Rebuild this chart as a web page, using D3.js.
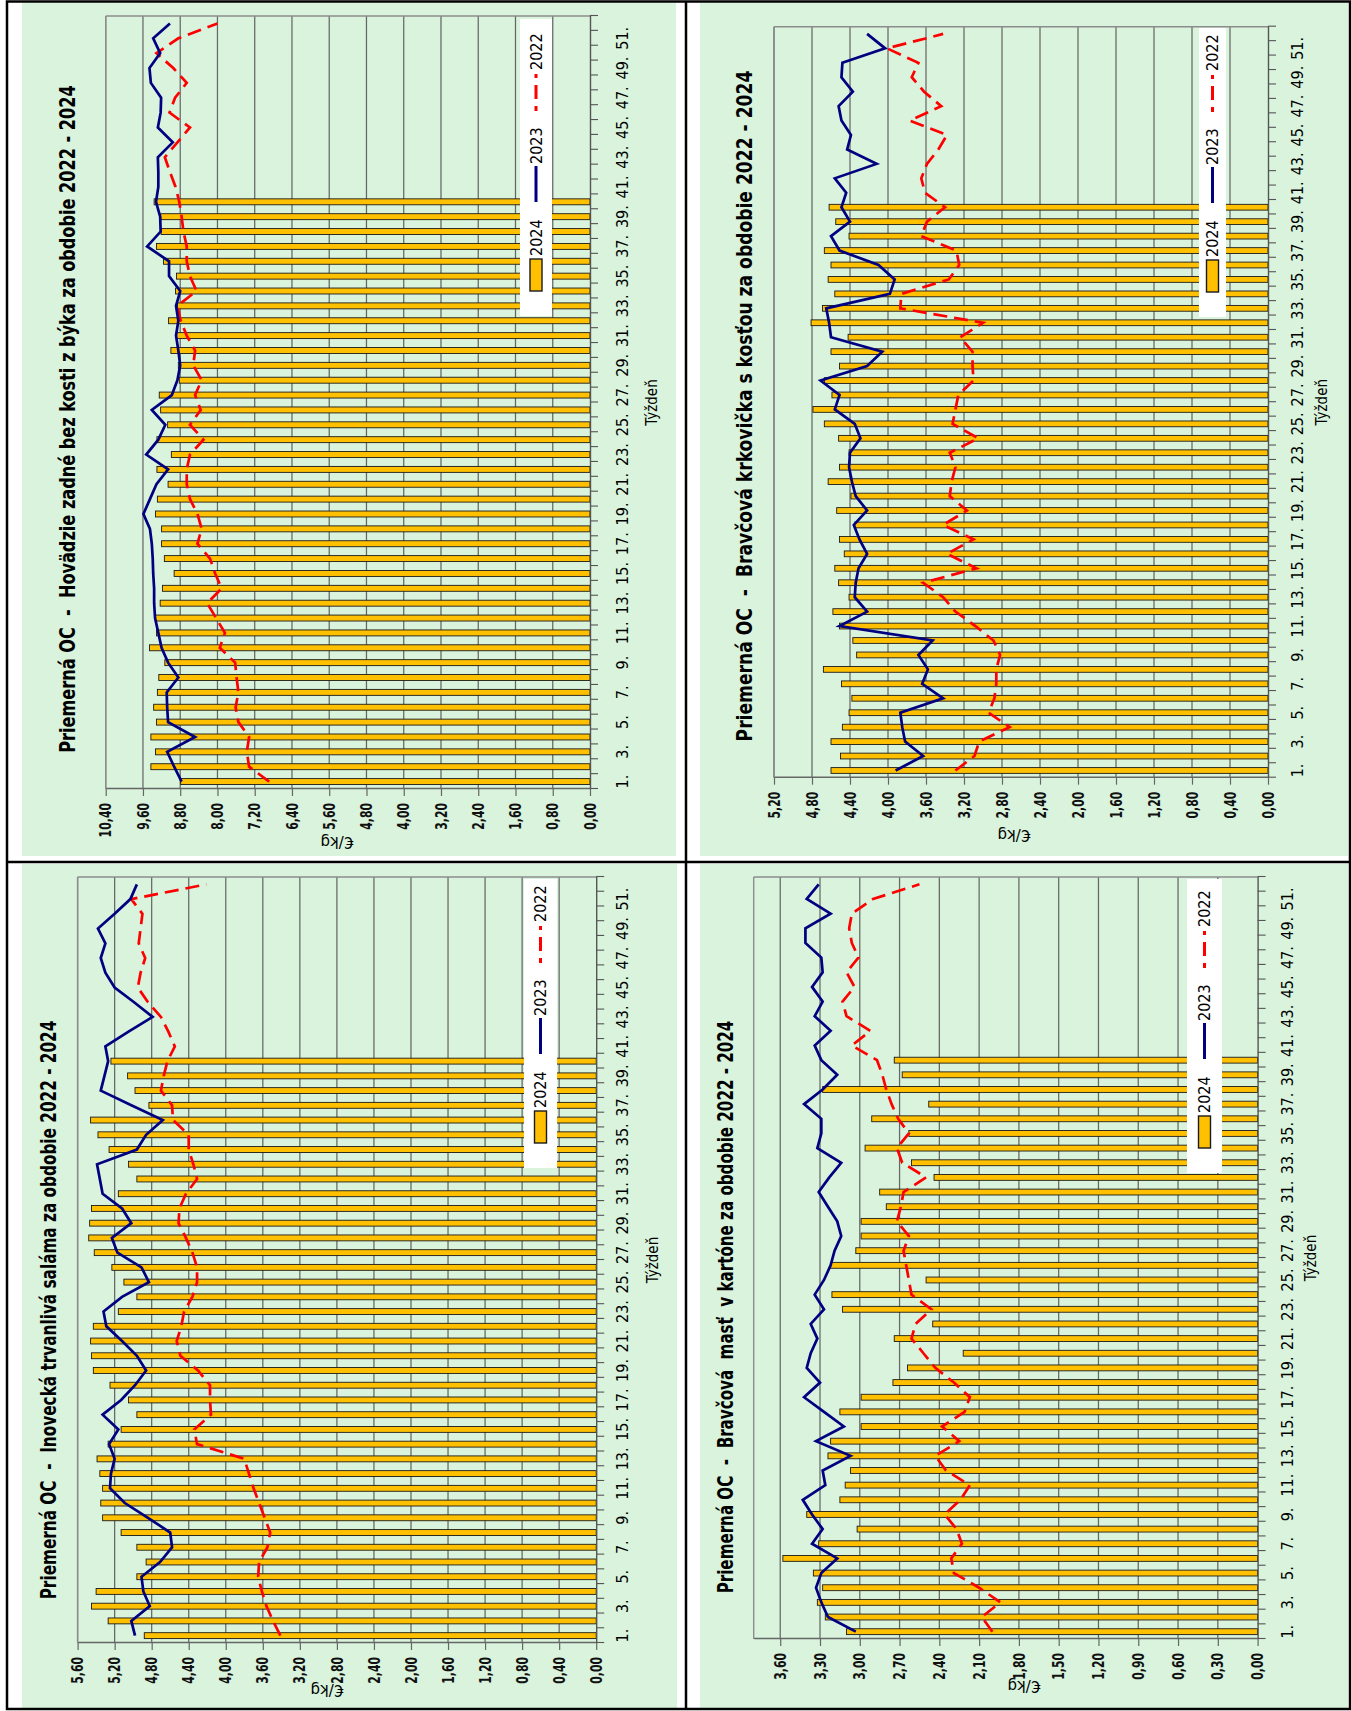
<!DOCTYPE html>
<html><head><meta charset="utf-8">
<script src="https://cdn.jsdelivr.net/npm/d3@7"></script>
<style>
body{margin:0;background:#fff;}
svg{display:block;}
</style></head><body>
<svg id="c" width="1351" height="1711"></svg>
<script>
// ---------- DATA ----------
const weeks = d3.range(1, 53);
const weekLabels = weeks.map(w => w + ".");
const seriesNames = ["2024", "2023", "2022"];
const axisTitleX = "Týždeň";
const axisTitleY = "€/kg";

// Panel 1: Hovädzie zadné bez kosti z býka
const beefTitle = "Priemerná OC  -  Hovädzie zadné bez kosti z býka za obdobie 2022 - 2024";
const beefTicks = [0, 0.8, 1.6, 2.4, 3.2, 4.0, 4.8, 5.6, 6.4, 7.2, 8.0, 8.8, 9.6, 10.4];
const beef2024 = [8.79, 9.43, 9.33, 9.43, 9.31, 9.37, 9.29, 9.26, 9.13, 9.46,
  9.31, 9.33, 9.23, 9.18, 8.93, 9.14, 9.20, 9.20, 9.33, 9.29,
  9.06, 9.30, 8.99, 9.30, 9.07, 9.22, 9.25, 8.82, 8.84, 9.00,
  8.89, 9.05, 8.86, 8.90, 8.88, 9.16, 9.31, 9.21, 9.22, 9.36];
const beef2023 = [8.77, 8.93, 9.08, 8.48, 9.06, 9.08, 9.09, 8.84, 9.06, 9.20,
  9.27, 9.34, 9.36, 9.36, 9.38, 9.39, 9.41, 9.45, 9.59, 9.45,
  9.31, 9.06, 9.53, 9.27, 9.12, 9.41, 8.98, 8.86, 8.80, 8.84,
  8.89, 8.84, 8.89, 8.80, 9.04, 9.04, 9.51, 9.22, 9.23, 9.32,
  9.27, 9.27, 9.28, 8.96, 9.28, 9.22, 9.21, 9.43, 9.46, 9.23,
  9.38, 9.02];
const beef2022 = [6.89, 7.32, 7.37, 7.32, 7.55, 7.61, 7.55, 7.59, 7.62, 7.95,
  7.84, 8.03, 8.22, 7.91, 8.05, 8.16, 8.43, 8.34, 8.43, 8.59,
  8.66, 8.66, 8.59, 8.30, 8.59, 8.36, 8.48, 8.34, 8.52, 8.48,
  8.66, 8.79, 8.86, 8.45, 8.59, 8.66, 8.66, 8.73, 8.77, 8.82,
  8.90, 9.02, 9.13, 8.86, 8.59, 9.03, 8.91, 8.66, 8.95, 9.31,
  8.84, 8.00];

// Panel 2: Bravčová krkovička s kosťou
const neckTitle = "Priemerná OC  -  Bravčová krkovička s kosťou za obdobie 2022 - 2024";
const neckTicks = [0, 0.4, 0.8, 1.2, 1.6, 2.0, 2.4, 2.8, 3.2, 3.6, 4.0, 4.4, 4.8, 5.2];
const neck2024 = [4.60, 4.50, 4.60, 4.48, 4.41, 4.38, 4.49, 4.68, 4.33, 4.37,
  4.51, 4.58, 4.41, 4.52, 4.56, 4.46, 4.51, 4.35, 4.54, 4.39,
  4.63, 4.51, 4.41, 4.52, 4.67, 4.79, 4.59, 4.67, 4.51, 4.60,
  4.42, 4.81, 4.69, 4.56, 4.63, 4.60, 4.67, 4.41, 4.55, 4.62];
const neck2023 = [3.92, 3.63, 3.82, 3.85, 3.87, 3.42, 3.64, 3.58, 3.68, 3.53,
  4.51, 4.22, 4.35, 4.34, 4.31, 4.22, 4.30, 4.36, 4.22, 4.34,
  4.38, 4.41, 4.40, 4.29, 4.35, 4.56, 4.51, 4.71, 4.22, 4.06,
  4.60, 4.62, 4.65, 3.98, 3.93, 4.10, 4.51, 4.60, 4.40, 4.49,
  4.44, 4.56, 4.12, 4.43, 4.39, 4.49, 4.52, 4.37, 4.49, 4.48,
  4.03, 4.22];
const neck2022 = [3.29, 3.09, 3.04, 2.72, 2.94, 2.88, 2.86, 2.86, 2.82, 2.89,
  3.08, 3.29, 3.42, 3.63, 3.07, 3.38, 3.10, 3.42, 3.17, 3.35,
  3.33, 3.29, 3.35, 3.05, 3.32, 3.29, 3.26, 3.10, 3.11, 3.11,
  3.24, 3.00, 3.87, 3.86, 3.36, 3.25, 3.28, 3.65, 3.59, 3.40,
  3.61, 3.65, 3.59, 3.47, 3.38, 3.77, 3.44, 3.62, 3.75, 3.68,
  4.01, 3.42];

// Panel 3: Inovecká trvanlivá saláma
const salamiTitle = "Priemerná OC  -  Inovecká trvanlivá saláma za obdobie 2022 - 2024";
const salamiTicks = [0, 0.4, 0.8, 1.2, 1.6, 2.0, 2.4, 2.8, 3.2, 3.6, 4.0, 4.4, 4.8, 5.2, 5.6];
const salami2024 = [4.88, 5.27, 5.45, 5.40, 4.96, 4.86, 4.96, 5.13, 5.33, 5.35,
  5.33, 5.36, 5.39, 5.27, 5.13, 4.96, 5.05, 5.25, 5.43, 5.45,
  5.46, 5.43, 5.16, 4.96, 5.10, 5.23, 5.42, 5.48, 5.47, 5.45,
  5.16, 4.96, 5.05, 5.26, 5.38, 5.46, 4.83, 4.98, 5.06, 5.24];
const salami2023 = [4.98, 5.02, 4.82, 4.89, 4.91, 4.71, 4.58, 4.60, 4.84, 5.09,
  5.25, 5.24, 5.20, 5.26, 5.16, 5.33, 5.13, 4.98, 4.86, 4.96,
  5.12, 5.29, 5.32, 5.12, 4.83, 4.91, 5.17, 5.23, 5.02, 5.12,
  5.33, 5.36, 5.39, 4.96, 4.86, 4.68, 5.02, 5.35, 5.31, 5.27,
  5.30, 5.05, 4.79, 4.99, 5.20, 5.30, 5.35, 5.30, 5.38, 5.20,
  5.03, 4.96];
const salami2022 = [3.41, 3.49, 3.56, 3.61, 3.65, 3.64, 3.55, 3.52, 3.58, 3.64,
  3.70, 3.75, 3.80, 4.31, 4.34, 4.16, 4.17, 4.17, 4.30, 4.49,
  4.53, 4.48, 4.45, 4.36, 4.31, 4.31, 4.36, 4.43, 4.51, 4.50,
  4.43, 4.31, 4.35, 4.40, 4.40, 4.57, 4.58, 4.70, 4.67, 4.63,
  4.55, 4.62, 4.70, 4.84, 4.95, 4.92, 4.87, 4.94, 4.92, 4.90,
  5.02, 4.21];

// Panel 4: Bravčová masť v kartóne
const lardTitle = "Priemerná OC  -  Bravčová  masť  v kartóne za obdobie 2022 - 2024";
const lardTicks = [0, 0.3, 0.6, 0.9, 1.2, 1.5, 1.8, 2.1, 2.4, 2.7, 3.0, 3.3, 3.6];
const lard2024 = [3.10, 3.26, 3.32, 3.28, 3.35, 3.58, 3.31, 3.02, 3.40, 3.15,
  3.11, 3.07, 3.24, 3.22, 2.99, 3.15, 2.99, 2.75, 2.64, 2.22,
  2.74, 2.45, 3.13, 3.21, 2.50, 3.22, 3.03, 2.99, 2.99, 2.80,
  2.85, 2.44, 2.61, 2.96, 2.63, 2.91, 2.48, 3.28, 2.68, 2.74];
const lard2023 = [3.03, 3.24, 3.29, 3.33, 3.29, 3.17, 3.36, 3.28, 3.36, 3.43,
  3.26, 3.28, 3.07, 3.33, 3.12, 3.27, 3.42, 3.30, 3.40, 3.37,
  3.32, 3.37, 3.27, 3.34, 3.27, 3.22, 3.19, 3.14, 3.17, 3.24,
  3.31, 3.23, 3.14, 3.32, 3.29, 3.29, 3.42, 3.28, 3.17, 3.29,
  3.34, 3.22, 3.34, 3.28, 3.36, 3.28, 3.29, 3.41, 3.41, 3.22,
  3.40, 3.31];
const lard2022 = [2.00, 2.08, 1.94, 2.10, 2.29, 2.31, 2.23, 2.27, 2.36, 2.24,
  2.17, 2.35, 2.43, 2.25, 2.38, 2.21, 2.17, 2.29, 2.43, 2.52,
  2.61, 2.58, 2.46, 2.61, 2.63, 2.65, 2.67, 2.63, 2.72, 2.69,
  2.67, 2.50, 2.68, 2.72, 2.63, 2.71, 2.76, 2.80, 2.83, 2.87,
  3.06, 2.92, 3.10, 3.13, 3.04, 3.10, 3.01, 3.06, 3.08, 3.06,
  2.90, 2.55];

// ---------- LAYOUT ----------
const narrow = "'Liberation Sans Narrow','DejaVu Sans Condensed','Arial Narrow',sans-serif";
const sans = "'DejaVu Sans','Verdana',sans-serif";
const GREEN = "#d9f3dd";

const svg = d3.select("#c");
svg.append("rect").attr("width", 1351).attr("height", 1711).attr("fill", "#fff");
[[22, 3, 654, 853], [700, 3, 648, 853], [22, 864, 655, 844], [700, 864, 648, 844]].forEach(r => {
  svg.append("rect").attr("x", r[0]).attr("y", r[1]).attr("width", r[2]).attr("height", r[3]).attr("fill", GREEN);
});

const fmt = v => d3.format(".2f")(v).replace(".", ",");

const layouts = [
  {title: beefTitle, ticks: beefTicks, bars: beef2024, s23: beef2023, s22: beef2022,
   xL: 105.7, xR: 590, yT: 16, yB: 789, max: 10.4, wlOff: 32, tyOff: 62,
   eurX: 337, eurY: 842, tX: 68, tY: 419, tLen: 668,
   lg: {x0: 520, x1: 552, y0: 19, y1: 316}},
  {title: neckTitle, ticks: neckTicks, bars: neck2024, s23: neck2023, s22: neck2022,
   xL: 774, xR: 1268, yT: 26.7, yB: 777.7, max: 5.2, wlOff: 29, tyOff: 54,
   eurX: 1014, eurY: 835, tX: 745, tY: 406, tLen: 671,
   lg: {x0: 1199, x1: 1226, y0: 28, y1: 317}},
  {title: salamiTitle, ticks: salamiTicks, bars: salami2024, s23: salami2023, s22: salami2022,
   xL: 77.6, xR: 596.2, yT: 877, yB: 1643, max: 5.6, wlOff: 26, tyOff: 57,
   eurX: 327, eurY: 1690, tX: 49, tY: 1310, tLen: 579,
   lg: {x0: 524, x1: 557, y0: 879, y1: 1168}},
  {title: lardTitle, ticks: lardTicks, bars: lard2024, s23: lard2023, s22: lard2022,
   xL: 753.7, xR: 1257.6, yT: 877, yB: 1639, max: 3.8, wlOff: 30, tyOff: 53,
   eurX: 1024, eurY: 1686, tX: 726, tY: 1307, tLen: 573,
   lg: {x0: 1187, x1: 1222, y0: 879, y1: 1173}}
];

function drawPanel(p) {
  // unrotated frame: u = along weeks (0 .. H), v = page x
  const g = svg.append("g").attr("transform", `translate(0,${p.yB}) rotate(-90)`);
  const H = p.yB - p.yT;
  const x = d3.scaleBand().domain(weeks).range([0, H]);
  const xl = d3.scaleLinear().domain([0, 52]).range([0, H]);
  const y = d3.scaleLinear().domain([0, p.max]).range([p.xR, p.xL]);

  // gridlines
  g.append("g").selectAll("line").data(p.ticks.filter(t => t > 0)).join("line")
    .attr("x1", 0).attr("x2", H).attr("y1", t => y(t)).attr("y2", t => y(t))
    .attr("stroke", "#676767").attr("stroke-width", 1.25);
  // plot border (original top & right)
  g.append("line").attr("x1", 0).attr("x2", H).attr("y1", y(p.max)).attr("y2", y(p.max))
    .attr("stroke", "#8c8c8c").attr("stroke-width", 1.4);
  g.append("line").attr("x1", H).attr("x2", H).attr("y1", y(p.max)).attr("y2", y(0))
    .attr("stroke", "#8c8c8c").attr("stroke-width", 1.4);

  // bars 2024
  const bw = x.bandwidth() * 0.4;
  g.append("g").selectAll("rect").data(p.bars).join("rect")
    .attr("x", (v, i) => x(weeks[i]) + (x.bandwidth() - bw) / 2)
    .attr("width", bw)
    .attr("y", v => y(v)).attr("height", v => y(0) - y(v))
    .attr("fill", "#ffc000").attr("stroke", "#1a1a1a").attr("stroke-width", 0.9);

  // lines
  const line = d3.line().x((v, i) => x(weeks[i]) + x.bandwidth() / 2).y(v => y(v));
  g.append("path").datum(p.s22).attr("d", line).attr("fill", "none")
    .attr("stroke", "#ff0000").attr("stroke-width", 2.7).attr("stroke-dasharray", "14,7");
  g.append("path").datum(p.s23).attr("d", line).attr("fill", "none")
    .attr("stroke", "#000080").attr("stroke-width", 2.7);

  // value axis (original left)
  const ya = g.append("g").call(d3.axisLeft(y).tickValues(p.ticks).tickSize(7).tickSizeOuter(0).tickPadding(7).tickFormat(fmt));
  ya.select(".domain").attr("stroke", "#666").attr("stroke-width", 1.4);
  ya.selectAll(".tick line").attr("stroke", "#666").attr("stroke-width", 1.2);
  ya.selectAll(".tick text").attr("font-family", sans).attr("font-weight", "bold").attr("font-size", 16).attr("fill", "#111")
    .attr("x", -14 / 0.68).attr("transform", "scale(0.68,1)");

  // category axis (original bottom)
  const xa = g.append("g").attr("transform", `translate(0,${p.xR})`)
    .call(d3.axisBottom(xl).tickValues(d3.range(0, 53)).tickSize(8).tickSizeOuter(0).tickFormat(""));
  xa.select(".domain").attr("stroke", "#555").attr("stroke-width", 1.4);
  xa.selectAll(".tick line").attr("stroke", "#555").attr("stroke-width", 1.1);
  const xb = g.append("g").attr("transform", `translate(0,${p.xR})`)
    .call(d3.axisBottom(x).tickValues(weeks.filter(w => w % 2 === 1)).tickSize(0).tickFormat(w => weekLabels[w - 1]));
  xb.select(".domain").remove();
  xb.selectAll(".tick text").attr("font-family", narrow).attr("font-size", 16).attr("fill", "#000")
    .attr("y", p.wlOff).attr("dy", "0.35em");

  // axis titles
  g.append("text").attr("x", H / 2).attr("y", p.xR + p.tyOff).attr("dy", "0.35em")
    .attr("text-anchor", "middle").attr("font-family", narrow).attr("font-size", 15).text(axisTitleX);
  g.append("text").attr("transform", `translate(${-(p.eurY - p.yB)},${p.eurX}) rotate(-90)`)
    .attr("dy", "0.35em").attr("text-anchor", "middle").attr("font-family", sans).attr("font-size", 15)
    .text(axisTitleY);

  // chart title (fit to target length with a horizontal scale)
  const tt = g.append("text").attr("dy", "0.35em")
    .attr("text-anchor", "middle").attr("font-family", narrow).attr("font-weight", "bold")
    .attr("font-size", 21).style("white-space", "pre").text(p.title);
  const nat = tt.node().getComputedTextLength() || p.tLen;
  tt.attr("transform", `translate(${p.yB - p.tY},${p.tX}) scale(${p.tLen / nat},1)`);

  // legend
  const L = p.lg;
  const u0 = p.yB - L.y1, lw = L.y1 - L.y0, v0 = L.x0, lh = L.x1 - L.x0, vc = v0 + lh / 2;
  const lg = g.append("g");
  lg.append("rect").attr("x", u0).attr("y", v0).attr("width", lw).attr("height", lh).attr("fill", "#fff");
  lg.append("rect").attr("x", u0 + 25).attr("y", vc - 6).attr("width", 32).attr("height", 12)
    .attr("fill", "#ffc000").attr("stroke", "#1a1a1a").attr("stroke-width", 1.4);
  lg.append("line").attr("x1", u0 + 114).attr("x2", u0 + 150).attr("y1", vc).attr("y2", vc)
    .attr("stroke", "#000080").attr("stroke-width", 3);
  lg.append("line").attr("x1", u0 + 205).attr("x2", u0 + 242).attr("y1", vc).attr("y2", vc)
    .attr("stroke", "#ff0000").attr("stroke-width", 3).attr("stroke-dasharray", "5,7,14,7");
  [[60, seriesNames[0]], [152, seriesNames[1]], [246, seriesNames[2]]].forEach(([o, t]) => {
    lg.append("text").attr("x", u0 + o).attr("y", vc).attr("dy", "0.35em")
      .attr("font-family", narrow).attr("font-size", 16).text(t);
  });
}

layouts.forEach(drawPanel);

// borders
svg.append("rect").attr("x", 7).attr("y", 1.5).attr("width", 1343).attr("height", 1707.5)
  .attr("fill", "none").attr("stroke", "#000").attr("stroke-width", 2.5);
svg.append("line").attr("x1", 686).attr("x2", 686).attr("y1", 1).attr("y2", 1710).attr("stroke", "#000").attr("stroke-width", 2.5);
svg.append("line").attr("x1", 7).attr("x2", 1350).attr("y1", 862).attr("y2", 862).attr("stroke", "#000").attr("stroke-width", 2.5);
</script>
</body></html>
